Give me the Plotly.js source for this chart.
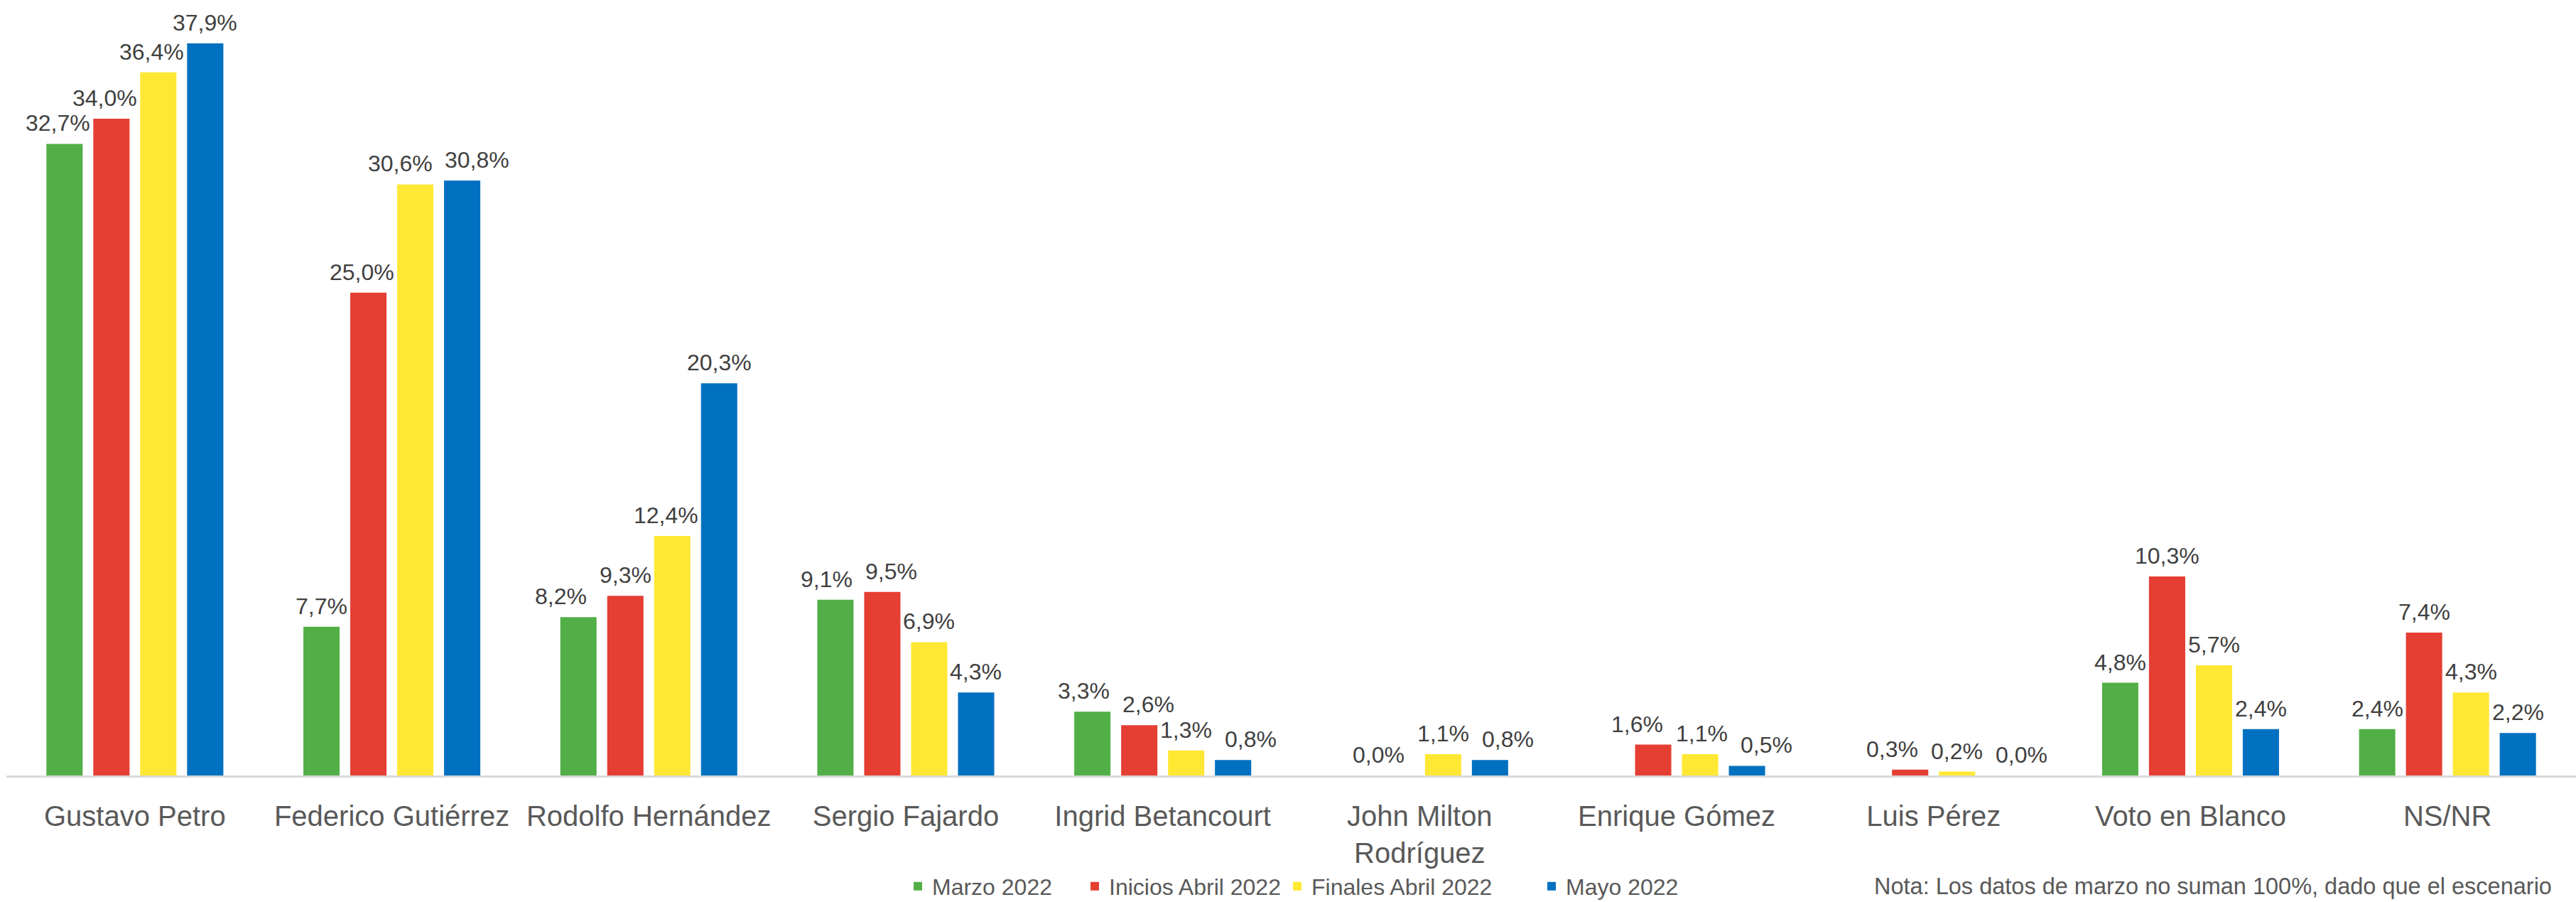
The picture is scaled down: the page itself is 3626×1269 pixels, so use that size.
<!DOCTYPE html>
<html>
<head>
<meta charset="utf-8">
<script src="https://cdn.plot.ly/plotly-3.0.1.min.js"></script>
<style>
html,body{margin:0;padding:0;background:#ffffff;}
#chart{width:3626px;height:1269px;}
</style>
</head>
<body>
<div id="chart"></div>
<script>
// ---------------- DATA ----------------
const categories = ['Gustavo Petro', 'Federico Gutiérrez', 'Rodolfo Hernández', 'Sergio Fajardo',
  'Ingrid Betancourt', 'John Milton<br>Rodríguez', 'Enrique Gómez', 'Luis Pérez', 'Voto en Blanco', 'NS/NR'];
const seriesNames = ['Marzo 2022', 'Inicios Abril 2022', 'Finales Abril 2022', 'Mayo 2022'];
const marzo2022 = [32.7, 7.7, 8.2, 9.1, 3.3, null, null, null, 4.8, 2.4];
const iniciosAbril2022 = [34.0, 25.0, 9.3, 9.5, 2.6, 0.0, 1.6, 0.3, 10.3, 7.4];
const finalesAbril2022 = [36.4, 30.6, 12.4, 6.9, 1.3, 1.1, 1.1, 0.2, 5.7, 4.3];
const mayo2022 = [37.9, 30.8, 20.3, 4.3, 0.8, 0.8, 0.5, 0.0, 2.4, 2.2];
const noteText = 'Nota: Los datos de marzo no suman 100%, dado que el escenario';

// ---------------- STYLE ----------------
const seriesValues = [marzo2022, iniciosAbril2022, finalesAbril2022, mayo2022];
const colors = ['#52AF47', '#E53E33', '#FFE834', '#0070C0'];
const legendWidths = [204, 240, 313, 200];
const FONT = '"Liberation Sans", Arial, Helvetica, sans-serif';
const W = 3626, H = 1269;
const M = {l: 9, r: 0, t: 4, b: 178};
const BARGAP = 0.27, BARGROUPGAP = 0.227;
const Y_MAX = 40;
const LABEL_SIZE = 32;
const LABEL_LIFT = 9;
const V_SEP = 32, H_GAP = 18, BAR_CLEAR = 4, EDGE = 4;

const fmt = v => v.toFixed(1).replace('.', ',') + '%';

const traces = seriesValues.map((vals, k) => ({
  type: 'bar',
  name: seriesNames[k],
  x: categories,
  y: vals,
  marker: {color: colors[k], line: {width: 0}},
  legendwidth: legendWidths[k],
  hoverinfo: 'skip'
}));

// ---------- data labels (on the bar tops, spread apart when they collide with labels or taller bars) ----------
const ctx = document.createElement('canvas').getContext('2d');
ctx.font = LABEL_SIZE + 'px ' + FONT;
const plotW = W - M.l - M.r, plotH = H - M.t - M.b;
const catPx = plotW / categories.length;
const slot = (1 - BARGAP) / seriesValues.length;
const halfBar = slot * catPx * (1 - BARGROUPGAP) / 2;
const pxPerUnit = plotH / Y_MAX;
const annotations = [];
categories.forEach((c, i) => {
  const catCenterAbs = M.l + (i + 0.5) * catPx;
  const items = [];
  seriesValues.forEach((vals, k) => {
    const v = vals[i];
    if (v === null || v === undefined) return;
    const off = (k - (seriesValues.length - 1) / 2) * slot;
    const txt = fmt(v);
    items.push({k, v, txt, off, bc: off * catPx, cx: off * catPx, w: ctx.measureText(txt).width, yb: v * pxPerUnit});
  });
  for (let it = 0; it < 400; it++) {
    let moved = false;
    for (let a = 0; a < items.length; a++) {
      for (let b = a + 1; b < items.length; b++) {
        const A = items[a], B = items[b];
        if (Math.abs(A.yb - B.yb) >= V_SEP) continue;
        const need = (A.w + B.w) / 2 + H_GAP;
        const cur = B.cx - A.cx;
        if (cur < need - 0.05) {
          const d = (need - cur) / 2;
          A.cx -= d; B.cx += d; moved = true;
        }
      }
    }
    items.forEach(o => {
      items.forEach(bj => {
        if (bj.k === o.k || bj.yb <= o.yb + LABEL_LIFT) return;
        if (bj.k > o.k) {
          const maxC = bj.bc - halfBar - BAR_CLEAR - o.w / 2;
          if (o.cx > maxC + 0.05) { o.cx = maxC; moved = true; }
        } else {
          const minC = bj.bc + halfBar + BAR_CLEAR + o.w / 2;
          if (o.cx < minC - 0.05) { o.cx = minC; moved = true; }
        }
      });
      const minEdge = EDGE + o.w / 2 - catCenterAbs;
      const maxEdge = W - EDGE - o.w / 2 - catCenterAbs;
      if (o.cx < minEdge) { o.cx = minEdge; }
      if (o.cx > maxEdge) { o.cx = maxEdge; }
    });
    if (!moved) break;
  }
  items.forEach(o => annotations.push({
    xref: 'x', yref: 'y', x: i + o.off, y: o.v,
    xshift: o.cx - o.bc, yshift: LABEL_LIFT,
    xanchor: 'center', yanchor: 'bottom',
    text: o.txt, showarrow: false,
    font: {family: FONT, size: LABEL_SIZE, color: '#404040'}
  }));
});

annotations.push({
  xref: 'paper', yref: 'paper',
  x: (2636 - M.l) / plotW, y: -(1267 - (H - M.b)) / plotH,
  xanchor: 'left', yanchor: 'bottom',
  text: noteText, showarrow: false,
  font: {family: FONT, size: 32.5, color: '#595959'}
});

const layout = {
  width: W, height: H,
  margin: {l: M.l, r: M.r, t: M.t, b: M.b, pad: 0, autoexpand: false},
  paper_bgcolor: '#ffffff', plot_bgcolor: '#ffffff',
  barmode: 'group', bargap: BARGAP, bargroupgap: BARGROUPGAP,
  font: {family: FONT, color: '#595959'},
  xaxis: {
    type: 'category',
    range: [-0.5, categories.length - 0.5], autorange: false,
    showline: true, linecolor: '#d9d9d9', linewidth: 3,
    showgrid: false, zeroline: false, ticks: '',
    ticklabelstandoff: 20,
    tickfont: {family: FONT, size: 40, color: '#595959'},
    fixedrange: true
  },
  yaxis: {
    range: [0, Y_MAX], autorange: false, visible: false, showgrid: false, zeroline: false, fixedrange: true
  },
  showlegend: true,
  legend: {
    orientation: 'h',
    x: (1272 - M.l) / plotW, xanchor: 'left',
    y: -(1247 - (H - M.b)) / plotH, yanchor: 'middle',
    font: {family: FONT, size: 32, color: '#595959'},
    bgcolor: 'rgba(0,0,0,0)', borderwidth: 0,
    traceorder: 'normal'
  },
  annotations: annotations,
  hovermode: false
};

Plotly.newPlot('chart', traces, layout, {staticPlot: true, displayModeBar: false});
</script>
</body>
</html>
